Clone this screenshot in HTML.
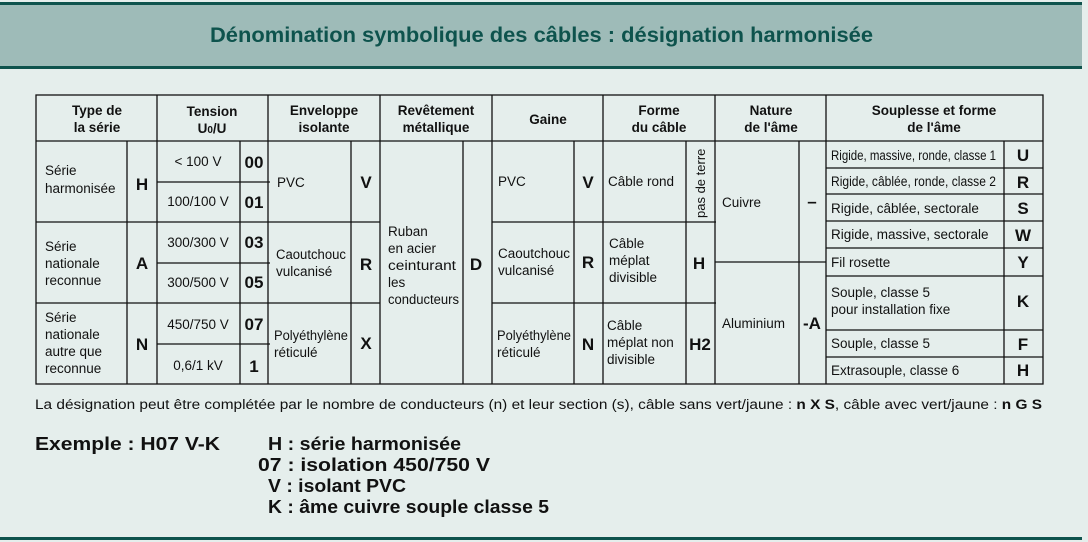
<!DOCTYPE html>
<html><head><meta charset="utf-8"><style>
html,body{margin:0;padding:0;background:#e5eeec;}
svg{display:block;}
text{font-family:"Liberation Sans",sans-serif;fill:#111;}
.h{font-weight:bold;font-size:13.5px;text-anchor:middle;}
.t{font-size:13.5px;}
.c{font-weight:bold;font-size:17px;text-anchor:middle;}
.s{font-size:13.5px;}
.e{font-weight:bold;font-size:18px;}
</style></head><body>
<svg width="1088" height="542" viewBox="0 0 1088 542" xmlns="http://www.w3.org/2000/svg">
<rect x="0" y="0" width="1088" height="542" fill="#e5eeec"/>
<rect x="0" y="4" width="1082" height="63" fill="#9ebbb8"/>
<rect x="0" y="2" width="1082" height="3" fill="#0e534d"/>
<rect x="0" y="66" width="1082" height="3" fill="#0e534d"/>
<rect x="0" y="537" width="1082" height="3" fill="#0e534d"/>
<text x="210" y="42" textLength="663" lengthAdjust="spacingAndGlyphs" style="font-weight:bold;font-size:21px;fill:#0e534d">Dénomination symbolique des câbles : désignation harmonisée</text>

<g stroke="#111" stroke-width="1.3" fill="none">
<rect x="36" y="95" width="1007" height="289"/>
<line x1="36" y1="141" x2="1043" y2="141"/>
<line x1="157" y1="95" x2="157" y2="384"/>
<line x1="268" y1="95" x2="268" y2="384"/>
<line x1="380" y1="95" x2="380" y2="384"/>
<line x1="492" y1="95" x2="492" y2="384"/>
<line x1="603" y1="95" x2="603" y2="384"/>
<line x1="715" y1="95" x2="715" y2="384"/>
<line x1="826" y1="95" x2="826" y2="384"/>
<line x1="127" y1="141" x2="127" y2="384"/>
<line x1="240" y1="141" x2="240" y2="384"/>
<line x1="351" y1="141" x2="351" y2="384"/>
<line x1="463" y1="141" x2="463" y2="384"/>
<line x1="574" y1="141" x2="574" y2="384"/>
<line x1="686" y1="141" x2="686" y2="384"/>
<line x1="799" y1="141" x2="799" y2="384"/>
<line x1="1004" y1="141" x2="1004" y2="384"/>
<line x1="36" y1="222" x2="380" y2="222"/>
<line x1="36" y1="303" x2="380" y2="303"/>
<line x1="157" y1="182" x2="270" y2="182"/>
<line x1="157" y1="263" x2="270" y2="263"/>
<line x1="157" y1="344" x2="270" y2="344"/>
<line x1="492" y1="222" x2="716" y2="222"/>
<line x1="492" y1="303" x2="716" y2="303"/>
<line x1="715" y1="262" x2="826" y2="262"/>
<line x1="826" y1="168" x2="1043" y2="168"/>
<line x1="826" y1="194" x2="1043" y2="194"/>
<line x1="826" y1="221" x2="1043" y2="221"/>
<line x1="826" y1="248" x2="1043" y2="248"/>
<line x1="826" y1="276" x2="1043" y2="276"/>
<line x1="826" y1="330" x2="1043" y2="330"/>
<line x1="826" y1="357" x2="1043" y2="357"/>
</g>

<text class="h" x="97" y="115">Type de</text><text class="h" x="97" y="132">la série</text>
<text class="h" x="212" y="116">Tension</text><text class="h" x="212" y="133">U<tspan font-size="10">0</tspan>/U</text>
<text class="h" x="324" y="115">Enveloppe</text><text class="h" x="324" y="132">isolante</text>
<text class="h" x="436" y="115">Revêtement</text><text class="h" x="436" y="132">métallique</text>
<text class="h" x="548" y="124">Gaine</text>
<text class="h" x="659" y="115">Forme</text><text class="h" x="659" y="132">du câble</text>
<text class="h" x="771" y="115">Nature</text><text class="h" x="771" y="132">de l'âme</text>
<text class="h" x="934" y="115">Souplesse et forme</text><text class="h" x="934" y="132">de l'âme</text>

<text class="t" x="45" y="175">Série</text><text class="t" x="45" y="193">harmonisée</text>
<text class="c" x="142" y="190">H</text>
<text class="t" x="45" y="251">Série</text><text class="t" x="45" y="268">nationale</text><text class="t" x="45" y="285">reconnue</text>
<text class="c" x="142" y="269">A</text>
<text class="t" x="45" y="322">Série</text><text class="t" x="45" y="339">nationale</text><text class="t" x="45" y="356">autre que</text><text class="t" x="45" y="373">reconnue</text>
<text class="c" x="142" y="350">N</text>
<text class="t" x="198" y="166" text-anchor="middle">&lt; 100 V</text><text class="c" x="254" y="168">00</text>
<text class="t" x="198" y="206" text-anchor="middle">100/100 V</text><text class="c" x="254" y="208">01</text>
<text class="t" x="198" y="247" text-anchor="middle">300/300 V</text><text class="c" x="254" y="248">03</text>
<text class="t" x="198" y="287" text-anchor="middle">300/500 V</text><text class="c" x="254" y="288">05</text>
<text class="t" x="198" y="329" text-anchor="middle">450/750 V</text><text class="c" x="254" y="330">07</text>
<text class="t" x="198" y="370" text-anchor="middle">0,6/1 kV</text><text class="c" x="254" y="372">1</text>
<text class="t" x="277" y="187">PVC</text><text class="c" x="366" y="188">V</text>
<text class="t" x="276" y="259" textLength="70" lengthAdjust="spacingAndGlyphs">Caoutchouc</text><text class="t" x="276" y="276">vulcanisé</text><text class="c" x="366" y="270">R</text>
<text class="t" x="274" y="340" textLength="74" lengthAdjust="spacingAndGlyphs">Polyéthylène</text><text class="t" x="274" y="357">réticulé</text><text class="c" x="366" y="349">X</text>
<text class="t" x="388" y="236">Ruban</text><text class="t" x="388" y="253">en acier</text><text class="t" x="388" y="270" textLength="68" lengthAdjust="spacingAndGlyphs">ceinturant</text><text class="t" x="388" y="287">les</text><text class="t" x="388" y="304" textLength="71" lengthAdjust="spacingAndGlyphs">conducteurs</text>
<text class="c" x="476" y="270">D</text>
<text class="t" x="498" y="186">PVC</text><text class="c" x="588" y="188">V</text>
<text class="t" x="498" y="258" textLength="72" lengthAdjust="spacingAndGlyphs">Caoutchouc</text><text class="t" x="498" y="275">vulcanisé</text><text class="c" x="588" y="268">R</text>
<text class="t" x="497" y="340" textLength="74" lengthAdjust="spacingAndGlyphs">Polyéthylène</text><text class="t" x="497" y="357">réticulé</text><text class="c" x="588" y="350">N</text>
<text class="t" x="608" y="186">Câble rond</text>
<text class="t" x="705" y="218" transform="rotate(-90 705 218)" style="font-size:13px">pas de terre</text>
<text class="t" x="609" y="248">Câble</text><text class="t" x="609" y="265">méplat</text><text class="t" x="609" y="282">divisible</text>
<text class="c" x="699" y="269">H</text>
<text class="t" x="607" y="330">Câble</text><text class="t" x="607" y="347">méplat non</text><text class="t" x="607" y="364">divisible</text>
<text class="c" x="700" y="350">H2</text>
<text class="t" x="722" y="207">Cuivre</text><text class="c" x="812" y="207">–</text>
<text class="t" x="722" y="328">Aluminium</text><text class="c" x="812" y="329">-A</text>
<text class="s" x="831" y="160" textLength="165" lengthAdjust="spacingAndGlyphs">Rigide, massive, ronde, classe 1</text><text class="c" x="1023" y="161">U</text>
<text class="s" x="831" y="186" textLength="165" lengthAdjust="spacingAndGlyphs">Rigide, câblée, ronde, classe 2</text><text class="c" x="1023" y="188">R</text>
<text class="s" x="831" y="213">Rigide, câblée, sectorale</text><text class="c" x="1023" y="214">S</text>
<text class="s" x="831" y="239">Rigide, massive, sectorale</text><text class="c" x="1023" y="241">W</text>
<text class="s" x="831" y="267">Fil rosette</text><text class="c" x="1023" y="268">Y</text>
<text class="s" x="831" y="297">Souple, classe 5</text><text class="s" x="831" y="314">pour installation fixe</text><text class="c" x="1023" y="307">K</text>
<text class="s" x="831" y="348">Souple, classe 5</text><text class="c" x="1023" y="350">F</text>
<text class="s" x="831" y="375">Extrasouple, classe 6</text><text class="c" x="1023" y="376">H</text>

<text x="35" y="409" textLength="1007" lengthAdjust="spacingAndGlyphs" style="font-size:13.5px">La désignation peut être complétée par le nombre de conducteurs (n) et leur section (s), câble sans vert/jaune : <tspan font-weight="bold">n X S</tspan>, câble avec vert/jaune : <tspan font-weight="bold">n G S</tspan></text>
<text class="e" x="35" y="450" textLength="185" lengthAdjust="spacingAndGlyphs">Exemple : H07 V-K</text>
<text class="e" x="268" y="450" textLength="193" lengthAdjust="spacingAndGlyphs">H : série harmonisée</text>
<text class="e" x="258" y="471" textLength="232" lengthAdjust="spacingAndGlyphs">07 : isolation 450/750 V</text>
<text class="e" x="268" y="492" textLength="138" lengthAdjust="spacingAndGlyphs">V : isolant PVC</text>
<text class="e" x="268" y="513" textLength="281" lengthAdjust="spacingAndGlyphs">K : âme cuivre souple classe 5</text>
</svg>
</body></html>
